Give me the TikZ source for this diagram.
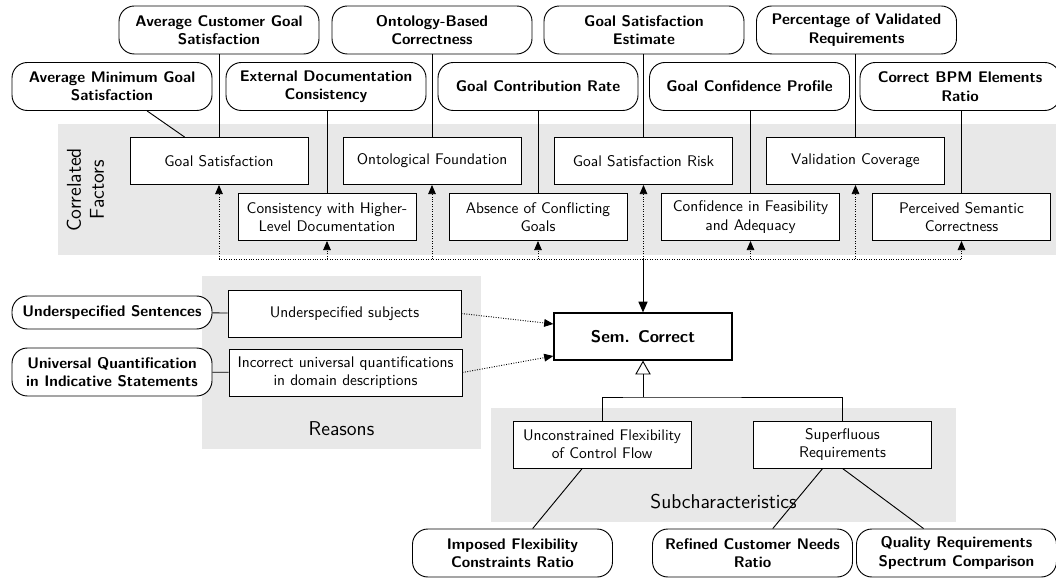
\documentclass[tikz,border=0pt]{standalone}
\usetikzlibrary{arrows.meta,calc}
\definecolor{bandgray}{RGB}{232,232,232}
\begin{document}
\begin{tikzpicture}[x=0.65pt,y=-0.65pt,font=\sffamily,
  factor/.style={draw,fill=white,align=center,line width=0.6pt,
    minimum width=115.7pt,minimum height=30.55pt},
  metric/.style={draw,fill=white,align=center,line width=0.6pt,
    font=\sffamily\bfseries,rounded corners=10pt,
    minimum width=130pt,minimum height=31.2pt},
  reason/.style={factor,minimum width=151.45pt},
  quality/.style={draw,fill=white,align=center,line width=0.8pt,
    font=\sffamily\bfseries\fontsize{11}{13}\selectfont,
    minimum width=115.7pt,minimum height=30.55pt},
  link/.style={line width=0.6pt},
  busline/.style={line width=0.6pt,densely dotted},
  dep/.style={line width=0.6pt,densely dotted,-{Triangle[length=6pt,width=5pt]}},
  lbl/.style={font=\sffamily\fontsize{13}{15}\selectfont,align=center},
]
\useasboundingbox (0,0) rectangle (1056,578);

% grouping bands
\fill[bandgray] (58,124) rectangle (1056,255);
\fill[bandgray] (202,276) rectangle (481,449);
\fill[bandgray] (491,408) rectangle (956,522);

\node[lbl,rotate=90] (cflbl) at (85.5,190) {Correlated\\Factors};
\node[lbl] (rlbl) at (341.5,429) {Reasons};
\node[lbl] (slbl) at (723.5,502) {Subcharacteristics};

% correlated factors
\node[factor] (gs)  at (219,161)   {Goal Satisfaction};
\node[factor] (of)  at (432,161)   {Ontological Foundation};
\node[factor] (gsr) at (643.5,161) {Goal Satisfaction Risk};
\node[factor] (vc)  at (855.5,161) {Validation Coverage};
\node[factor] (chl) at (327,217)   {Consistency with Higher-\\Level Documentation};
\node[factor] (acg) at (538,217)   {Absence of Conflicting\\Goals};
\node[factor] (cfa) at (750.5,217) {Confidence in Feasibility\\and Adequacy};
\node[factor] (psc) at (961.5,217) {Perceived Semantic\\Correctness};

% metrics of the correlated factors
\node[metric] (acgs) at (219,30)    {Average Customer Goal\\Satisfaction};
\node[metric] (obc)  at (432,30)    {Ontology-Based\\Correctness};
\node[metric] (gse)  at (644,30)    {Goal Satisfaction\\Estimate};
\node[metric] (pvr)  at (856.5,30)  {Percentage of Validated\\Requirements};
\node[metric] (amgs) at (112,86.5)  {Average Minimum Goal\\Satisfaction};
\node[metric] (edc)  at (326,86.5)  {External Documentation\\Consistency};
\node[metric] (gcr)  at (538,86.5)  {Goal Contribution Rate};
\node[metric] (gcp)  at (749.5,86.5){Goal Confidence Profile};
\node[metric] (bpm)  at (960,86.5)  {Correct BPM Elements\\Ratio};

\draw[link] (amgs) -- (gs);
\draw[link] (gs.north)  -- (gs.north  |- acgs.south);
\draw[link] (chl.north) -- (chl.north |- edc.south);
\draw[link] (of.north)  -- (of.north  |- obc.south);
\draw[link] (acg.north) -- (acg.north |- gcr.south);
\draw[link] (gsr.north) -- (gsr.north |- gse.south);
\draw[link] (cfa.north) -- (cfa.north |- gcp.south);
\draw[link] (vc.north)  -- (vc.north  |- pvr.south);
\draw[link] (psc.north) -- (psc.north |- bpm.south);

% the quality characteristic
\node[quality] (sem) at (643,336.5) {Sem. Correct};

% dotted bus from the characteristic to its correlated factors
\coordinate (bus) at (0,259);
\draw[busline] (gs.south |- bus) -- (psc.south |- bus);
\foreach \f in {gs,of,gsr,vc,chl,acg,cfa,psc}
  \draw[dep] (\f.south |- bus) -- (\f.south);
\draw[line width=0.6pt,-{Triangle[length=7pt,width=6pt]}] (sem.north |- bus) -- (sem.north);

% reasons
\node[reason] (us)  at (344.5,313.5) {Underspecified subjects};
\node[reason] (inc) at (345.5,372.5) {Incorrect universal quantifications\\in domain descriptions};
\node[metric,minimum height=21.45pt] (uss) at (112,312.5) {Underspecified Sentences};
\node[metric] (uq) at (112,372) {Universal Quantification\\in Indicative Statements};
\draw[link] (uss) -- (us);
\draw[link] (uq) -- (inc);
\draw[dep] (us.east)  -- ($(sem.west)+(0,-12.5)$);
\draw[dep] (inc.east) -- ($(sem.west)+(0,19.5)$);

% subcharacteristics
\node[factor] (unc) at (602,444.5)   {Unconstrained Flexibility\\of Control Flow};
\node[factor] (sup) at (842.5,444.5) {Superfluous\\Requirements};
\coordinate (tree) at (643,397);
\draw[link,-{Triangle[open,length=9pt,width=10pt]}] (tree) -- (sem.south);
\draw[link] (unc.north) |- (tree) -| (sup.north);

\node[metric] (ifc) at (512.5,553) {Imposed Flexibility\\Constraints Ratio};
\node[metric] (rcn) at (752.5,553) {Refined Customer Needs\\Ratio};
\node[metric] (qrs) at (956.5,553) {Quality Requirements\\Spectrum Comparison};
\draw[link] (unc) -- (ifc);
\draw[link] (sup) -- (rcn);
\draw[link] (sup.south) -- (qrs);
\end{tikzpicture}
\end{document}
